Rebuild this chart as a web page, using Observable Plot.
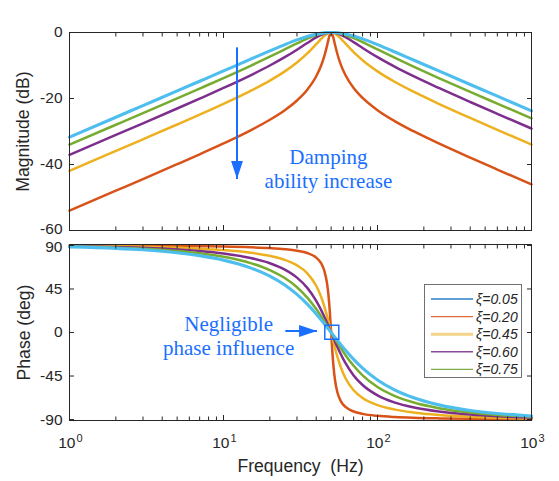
<!DOCTYPE html>
<html><head><meta charset="utf-8">
<script src="https://cdn.jsdelivr.net/npm/d3@7"></script>
<script src="https://cdn.jsdelivr.net/npm/@observablehq/plot@0.6"></script>
<style>
body{margin:0;background:#fff;}
#wrap{position:relative;width:559px;height:481px;font-family:"Liberation Sans",Arial,sans-serif;color:#262626;}
#title{position:absolute;left:200px;width:200px;top:2px;text-align:center;font-size:17.6px;line-height:20px;}
#top{position:absolute;left:0;top:0;}
#bot{position:absolute;left:0;top:236px;}
#legend{position:absolute;left:424px;top:284px;}
</style></head><body>
<div id="wrap"><div id="title">Bode Diagram</div><div id="top"></div><div id="bot"></div><div id="legend"></div></div>
<script>
// ---- data ----
const freq = [1,2,3,5,7,10,15,20,25,30,35,40,43,45,47,48,49,50,51,52,53,55,58,62,70,80,100,130,170,250,400,600,1000];

const magRed    = [-53.98,-47.94,-44.41,-39.91,-36.90,-33.62,-29.64,-26.45,-23.54,-20.60,-17.33,-13.27,-10.07,-7.37,-4.04,-2.22,-0.66,0,-0.63,-2.08,-3.73,-6.67,-9.95,-12.97,-16.82,-19.83,-23.54,-26.92,-29.84,-33.62,-37.93,-41.53,-46.00];
const magYellow = [-41.93,-35.90,-32.36,-27.88,-24.88,-21.61,-17.67,-14.56,-11.78,-9.09,-6.35,-3.55,-1.97,-1.07,-0.40,-0.18,-0.04,0,-0.04,-0.16,-0.35,-0.89,-1.92,-3.38,-5.95,-8.41,-11.78,-15.01,-17.87,-21.61,-25.90,-29.48,-33.96];
const magPurple = [-37.07,-31.05,-27.51,-23.03,-20.04,-16.81,-12.96,-10.00,-7.48,-5.21,-3.19,-1.50,-0.74,-0.38,-0.13,-0.06,-0.01,0,-0.01,-0.05,-0.12,-0.31,-0.72,-1.41,-2.92,-4.68,-7.48,-10.42,-13.16,-16.81,-21.06,-24.64,-29.10];
const magGreen  = [-33.98,-27.95,-24.42,-19.96,-16.99,-13.81,-10.09,-7.33,-5.12,-3.30,-1.85,-0.80,-0.38,-0.19,-0.07,-0.03,-0.01,0,-0.01,-0.03,-0.06,-0.16,-0.37,-0.75,-1.67,-2.90,-5.12,-7.72,-10.27,-13.81,-18.00,-21.55,-26.01];
const magCyan   = [-31.70,-25.68,-22.15,-17.71,-14.77,-11.65,-8.09,-5.58,-3.68,-2.24,-1.19,-0.49,-0.23,-0.11,-0.04,-0.02,0,0,0,-0.02,-0.03,-0.09,-0.22,-0.46,-1.07,-1.94,-3.68,-5.92,-8.27,-11.65,-15.76,-19.30,-23.74];

const phRed    = [89.89,89.77,89.66,89.42,89.18,88.81,88.11,87.27,86.19,84.64,82.19,77.47,71.73,64.65,51.07,39.23,22.0,0,-21.6,-38.12,-49.39,-62.36,-71.45,-77.01,-81.70,-84.14,-86.19,-87.41,-88.16,-88.81,-89.27,-89.52,-89.71];
const phYellow = [89.54,89.08,88.62,87.69,86.73,85.24,82.49,79.22,75.07,69.44,61.23,48.37,37.13,27.82,17.20,11.54,5.77,0,-5.65,-11.09,-16.25,-25.51,-36.69,-47.31,-59.74,-67.69,-75.07,-79.77,-82.66,-85.24,-87.09,-88.08,-88.85];
const phPurple = [89.20,88.39,87.59,85.96,84.29,81.70,77.00,71.57,64.98,56.73,46.14,32.74,23.39,16.78,10.03,6.65,3.30,0,-3.24,-6.40,-9.46,-15.25,-23.06,-31.77,-44.41,-54.32,-64.98,-72.47,-77.30,-81.70,-84.92,-86.64,-87.99];
const phGreen  = [88.85,87.71,86.55,84.23,81.87,78.23,71.76,64.54,56.31,46.85,36.08,24.23,16.85,11.92,7.06,4.67,2.31,0,-2.27,-4.49,-6.65,-10.81,-16.59,-23.45,-34.44,-44.28,-56.31,-65.70,-72.15,-78.23,-82.76,-85.20,-87.13];
const phCyan   = [88.51,87.02,85.52,82.52,79.48,74.85,66.80,58.24,49.09,39.37,29.27,19.09,13.11,9.22,5.44,3.59,1.78,0,-1.74,-3.45,-5.13,-8.35,-12.91,-18.44,-27.81,-36.87,-49.09,-59.59,-67.29,-74.85,-80.63,-83.77,-86.27];

const curveColors = ["#D95319","#EDB120","#7E2F8E","#77AC30","#4DBEEE"];
const curveWidths = [2.5,2.5,2.5,2.5,3.1];

const legendLabels = ["\u03BE=0.05","\u03BE=0.20","\u03BE=0.45","\u03BE=0.60","\u03BE=0.75"];
const legendColors = ["#2a7fc4","#e2693a","#f3d38a","#8a4a99","#7cae45"];
const legendWidths = [1.3,1.3,3,1.6,1.3];

const magTicks = [0,-20,-40,-60];
const phTicks = [90,45,0,-45,-90];
const xMajor = [1,10,100,1000];
const xExp = ["0","1","2","3"];
const xMinor = [2,3,4,5,6,7,8,9,20,30,40,50,60,70,80,90,200,300,400,500,600,700,800,900];

const noteTop = [{f:48, v:-41.1, text:"Damping\nability increase"}];
const arrowTop = [{f1:12.24, v1:-4.5, f2:12.24, v2:-44.4}];
const noteBot = [{f:10.8, v:-2.6, text:"Negligible\nphase influence"}];
const arrowBot = [{f1:25.2, v1:1.5, f2:40.5, v2:1.5}];
const markBox = [{f:50.5, v:0.3}];

// ---- helpers ----
const blue = "#1a6fff";
const ink = "#262626";
const sans = "Liberation Sans, Arial, sans-serif";
const serif = "Liberation Serif, Times New Roman, serif";
const tickFont = 15.5;
const rows = arr => freq.map((f,i)=>({f, v: arr[i]}));
const magSeries = [magRed,magYellow,magPurple,magGreen,magCyan];
const phSeries = [phRed,phYellow,phPurple,phGreen,phCyan];
const head = {draw(ctx, size){ const r = Math.sqrt(size/Math.PI); ctx.moveTo(0,0); ctx.lineTo(0.66*r,2*r); ctx.lineTo(-0.66*r,2*r); ctx.closePath(); }};

// edgeTick: the tick label at the panel edge next to the other panel, nudged by edgeDy px
function frameMarks(yTicks, edgeTick, edgeDy){
  return [
    Plot.axisY(yTicks,{anchor:"left", tickSize:-5, tickFormat:()=> "", label:null, stroke:ink}),
    Plot.axisY(yTicks,{anchor:"right", tickSize:-5, tickFormat:()=> "", label:null, stroke:ink}),
    Plot.axisX(xMajor,{anchor:"bottom", tickSize:-5, tickFormat:()=> "", label:null, stroke:ink}),
    Plot.axisX(xMajor,{anchor:"top", tickSize:-5, tickFormat:()=> "", label:null, stroke:ink}),
    Plot.axisX(xMinor,{anchor:"bottom", tickSize:-3.5, tickFormat:()=> "", label:null, stroke:ink}),
    Plot.axisX(xMinor,{anchor:"top", tickSize:-3.5, tickFormat:()=> "", label:null, stroke:ink}),
    Plot.axisY(yTicks.filter(t=>t!==edgeTick),{anchor:"left", tickSize:0, tickPadding:7, tickFormat:d=>String(d), label:null, fontSize:tickFont, fill:ink}),
    Plot.axisY([edgeTick],{anchor:"left", tickSize:0, tickPadding:7, tickFormat:d=>String(d), label:null, fontSize:tickFont, fill:ink, dy:edgeDy}),
    Plot.frame({stroke:ink, strokeWidth:1})
  ];
}

const topPlot = Plot.plot({
  width:559, height:236, marginLeft:69, marginRight:28, marginTop:32, marginBottom:6,
  style:{fontFamily:sans, fontSize:"16px", color:ink, background:"white", overflow:"visible"},
  x:{type:"log", domain:[1,1000]},
  y:{domain:[-60,0]},
  marks:[
    ...magSeries.map((s,k)=>Plot.line(rows(s),{x:"f", y:"v", stroke:curveColors[k], strokeWidth:curveWidths[k], curve:"monotone-x"})),
    Plot.link(arrowTop,{x1:"f1", y1:"v1", x2:"f2", y2:"v2", stroke:blue, strokeWidth:2}),
    Plot.dot(arrowTop,{x:"f2", y:"v2", r:9, symbol:head, fill:blue, stroke:"none", rotate:180}),
    Plot.text(noteTop,{x:"f", y:"v", text:"text", fontFamily:serif, fontSize:21, lineHeight:1.18, fill:blue, textAnchor:"middle", lineAnchor:"middle"}),
    ...frameMarks(magTicks, -60, -1.5),
    Plot.text(["Magnitude (dB)"],{frameAnchor:"left", text:d=>d, rotate:-90, dx:-46, fontSize:17.6, fill:ink, textAnchor:"middle", lineAnchor:"middle"})
  ]
});
document.getElementById("top").append(topPlot);

const botPlot = Plot.plot({
  width:559, height:245, marginLeft:69, marginRight:28, marginTop:8, marginBottom:61,
  style:{fontFamily:sans, fontSize:"16px", color:ink, background:"white", overflow:"visible"},
  x:{type:"log", domain:[1,1000]},
  y:{domain:[-91,91]},
  marks:[
    ...phSeries.map((s,k)=>Plot.line(rows(s),{x:"f", y:"v", stroke:curveColors[k], strokeWidth:curveWidths[k], curve:"monotone-x"})),
    Plot.link(arrowBot,{x1:"f1", y1:"v1", x2:"f2", y2:"v2", stroke:blue, strokeWidth:2}),
    Plot.dot(arrowBot,{x:"f2", y:"v2", r:9, symbol:head, fill:blue, stroke:"none", rotate:90}),
    Plot.dot(markBox,{x:"f", y:"v", r:7.9, symbol:"square", fill:"none", stroke:blue, strokeWidth:1.5}),
    Plot.text(noteBot,{x:"f", y:"v", text:"text", fontFamily:serif, fontSize:21, lineHeight:1.18, fill:blue, textAnchor:"middle", lineAnchor:"middle"}),
    ...frameMarks(phTicks, 90, 2),
    Plot.text(xMajor,{x:d=>d, text:()=> "10", frameAnchor:"bottom", dy:23, dx:6, textAnchor:"end", lineAnchor:"middle", fontSize:tickFont, fill:ink}),
    Plot.text(xMajor,{x:d=>d, text:(d,i)=> xExp[i], frameAnchor:"bottom", dy:18, dx:7, textAnchor:"start", lineAnchor:"middle", fontSize:11, fill:ink}),
    Plot.text(["Frequency\u00a0\u00a0(Hz)"],{frameAnchor:"bottom", text:d=>d, dy:45.5, fontSize:17.6, fill:ink, textAnchor:"middle", lineAnchor:"middle"}),
    Plot.text(["Phase (deg)"],{frameAnchor:"left", text:d=>d, rotate:-90, dx:-45.5, fontSize:17.6, fill:ink, textAnchor:"middle", lineAnchor:"middle"})
  ]
});
document.getElementById("bot").append(botPlot);

// ---- legend ----
const lg = d3.select("#legend").append("svg").attr("width",99).attr("height",95);
lg.append("rect").attr("x",0.5).attr("y",0.5).attr("width",97).attr("height",93).attr("fill","white").attr("stroke","#707070");
legendLabels.forEach((t,i)=>{
  const y = 15 + i*17.6;
  lg.append("line").attr("x1",7).attr("x2",49).attr("y1",y).attr("y2",y).attr("stroke",legendColors[i]).attr("stroke-width",legendWidths[i]);
  lg.append("text").attr("x",52).attr("y",y).attr("dy","0.35em").attr("font-family",sans).attr("font-style","italic").attr("font-size",14).attr("fill",ink).text(t);
});
</script>
</body></html>
